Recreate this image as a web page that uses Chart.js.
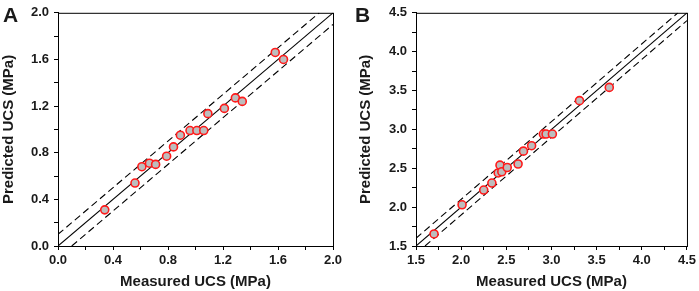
<!DOCTYPE html>
<html>
<head>
<meta charset="utf-8">
<script src="https://cdn.jsdelivr.net/npm/chart.js@4/dist/chart.umd.min.js"></script>
<style>
  html, body { margin: 0; padding: 0; background: #fff; }
  #wrap { position: relative; width: 699px; height: 291px; overflow: hidden; }
  canvas { position: absolute; top: 0; }
  #cA { left: 0; }
  #cB { left: 350px; }
  .lab { position: absolute; font-family: "Liberation Sans", Arial, sans-serif; font-weight: bold; font-size: 21px; line-height: 1; color: #1a1a1a; }
</style>
</head>
<body>
<div id="wrap">
  <canvas id="cA" width="350" height="291"></canvas>
  <canvas id="cB" width="349" height="291"></canvas>
  <div class="lab" style="left:3px;top:4px;">A</div>
  <div class="lab" style="left:355px;top:4px;">B</div>
</div>
<script>
// ---- Panel A data ----
const A_measured  = [0.34, 0.56, 0.61, 0.665, 0.71, 0.79, 0.84, 0.89, 0.96, 1.01, 1.06, 1.09, 1.21, 1.29, 1.34, 1.58, 1.64];
const A_predicted = [0.31, 0.54, 0.68, 0.71, 0.70, 0.77, 0.85, 0.95, 0.99, 0.99, 0.99, 1.135, 1.18, 1.27, 1.24, 1.66, 1.60];
const A_range = [0, 2];
const A_tickStep = 0.2;
const A_labelStep = 0.4;

// ---- Panel B data ----
const B_measured  = [1.70, 2.01, 2.25, 2.34, 2.41, 2.43, 2.45, 2.51, 2.63, 2.69, 2.78, 2.91, 2.94, 3.01, 3.31, 3.64];
const B_predicted = [1.655, 2.03, 2.22, 2.31, 2.44, 2.54, 2.455, 2.51, 2.555, 2.72, 2.79, 2.94, 2.94, 2.94, 3.37, 3.54];
const B_range = [1.5, 4.5];
const B_tickStep = 0.25;
const B_labelStep = 0.5;

// ±band around the 1:1 line (MPa)
const band = 0.1;

const FONT = '"Liberation Sans", Arial, sans-serif';
const TXT = '#1a1a1a';

const framePlugin = {
  id: 'frame',
  afterDatasetsDraw(chart) {
    const {ctx, chartArea: a} = chart;
    ctx.save();
    ctx.strokeStyle = '#000';
    ctx.lineWidth = 1;
    ctx.strokeRect(a.left + 0.5, a.top + 0.5, a.right - a.left, a.bottom - a.top);
    ctx.restore();
  }
};

function pts(xs, ys) { return xs.map((x, i) => ({x: x, y: ys[i]})); }

function makeChart(id, xs, ys, range, step, labelStep, opts) {
  const [lo, hi] = range;
  const ideal = [{x: lo, y: lo}, {x: hi, y: hi}];
  const upper = [{x: lo, y: lo + band}, {x: hi - band, y: hi}];
  const lower = [{x: lo + band, y: lo}, {x: hi, y: hi - band}];
  const lineDs = (data, dash) => ({
    type: 'line', data: data, borderColor: '#000', borderWidth: 1.1,
    borderDash: dash, pointRadius: 0, fill: false, showLine: true, order: 2
  });
  const tickCb = function(v) {
    const r = (v - lo) / labelStep;
    return Math.abs(r - Math.round(r)) < 1e-6 ? v.toFixed(1) : '';
  };
  const scaleBase = (title, pad) => ({
    type: 'linear', min: lo, max: hi,
    ticks: { stepSize: step, autoSkip: false, maxRotation: 0, callback: tickCb,
             color: TXT, font: {family: FONT, size: 13, weight: 'bold'}, padding: pad },
    grid: { drawOnChartArea: false, drawTicks: true, tickLength: 4, color: '#000', tickColor: '#000' },
    border: { display: true, color: '#000', width: 1 },
    title: { display: true, text: title, color: TXT, font: {family: FONT, size: 15, weight: 'bold', lineHeight: 1.2} }
  });
  const xs_ = scaleBase('Measured UCS (MPa)', 3);
  xs_.title.padding = {top: 0, bottom: 0};
  xs_.afterFit = s => { s.height = 45; };
  const ys_ = scaleBase('Predicted UCS (MPa)', 5);
  ys_.title.padding = {top: opts.yTitlePad, bottom: 0};
  ys_.afterFit = s => { s.width = opts.yWidth; };

  return new Chart(document.getElementById(id), {
    type: 'scatter',
    data: {
      datasets: [
        { type: 'scatter', data: pts(xs, ys), backgroundColor: '#bdbdbd', borderColor: '#ff1a1a',
          borderWidth: 1.6, pointRadius: 4, pointHoverRadius: 4, order: 1 },
        lineDs(ideal, []),
        lineDs(upper, [7, 4]),
        lineDs(lower, [7, 4])
      ]
    },
    options: {
      responsive: false, animation: false, devicePixelRatio: 1,
      layout: { padding: { top: 6, right: opts.padRight, left: 0, bottom: 0 } },
      plugins: { legend: {display: false}, tooltip: {enabled: false} },
      scales: { x: xs_, y: ys_ }
    },
    plugins: [framePlugin]
  });
}

makeChart('cA', A_measured, A_predicted, A_range, A_tickStep, A_labelStep, {yWidth: 58, padRight: 17, yTitlePad: 0});
makeChart('cB', B_measured, B_predicted, B_range, B_tickStep, B_labelStep, {yWidth: 66, padRight: 9, yTitlePad: 7});
</script>
</body>
</html>
